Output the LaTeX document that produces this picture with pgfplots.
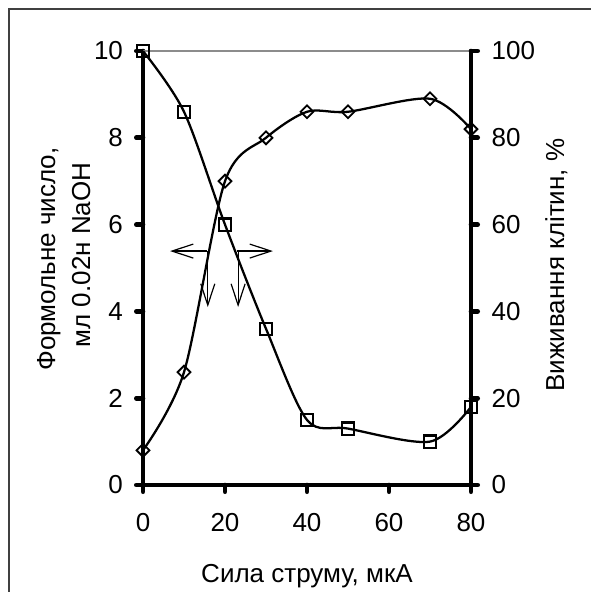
\documentclass[border=0pt]{standalone}
\usepackage{fontspec}
\setmainfont{Liberation Sans}
\usepackage{pgfplots}
\pgfplotsset{compat=1.18}
\usetikzlibrary{arrows.meta}

\newcommand{\lab}{\fontsize{19.5}{23}\selectfont}

% formol number (left axis), diamonds
\pgfplotstableread{
x   y
0   0.8
10  2.6
20  7.0
30  8.0
40  8.6
50  8.6
70  8.9
80  8.2
}\formol
% cell survival, % (right axis), squares
\pgfplotstableread{
x   y
0   100
10  86
20  60
30  36
40  15
50  13
70  10
80  18
}\surv

\pgfplotsset{
  common/.style={
    at={(107.25pt,-363.75pt)}, anchor=south west,
    scale only axis, width=246pt, height=325.5pt,
    xmin=0, xmax=80, clip=false,
    axis line style={line width=3.5pt, line cap=round, -},
    tick align=outside, major tick length=5pt,
    major tick style={line width=3.5pt, line cap=round, black},
    tick label style={font=\lab},
    /pgf/number format/assume math mode=true,
  },
}

\begin{document}
\begin{tikzpicture}
\useasboundingbox (0,0) rectangle (442.5pt,-444pt);
\begin{scope}[x=0.75pt,y=-0.75pt]
  \draw[line width=1pt, black!75] (9,600) -- (9,9) -- (600,9);
  \node[font=\lab, anchor=base] at (307,582) {Сила струму, мкА};
  \node[font=\lab, rotate=90, anchor=base] at (55,259) {Формольне число,};
  \node[font=\lab, rotate=90, anchor=base] at (90,255) {мл 0.02н NaOH};
  \node[font=\lab, rotate=90, anchor=base] at (564,265) {Виживання клітин, \%};
\end{scope}

\begin{axis}[common,
  ymin=0, ymax=10,
  axis x line*=bottom, axis y line*=left,
  xtick={0,20,...,80}, ytick={0,2,...,10},
  yticklabel style={xshift=-6.5pt},
  xticklabel style={yshift=-13pt},
]
\draw[black!45, line width=1.6pt] (axis cs:0,10) -- (axis cs:80,10);
\addplot[black, line width=1.7pt, smooth, mark=square, mark size=3.4pt,
  mark options={rotate=45, fill=white, line width=1.4pt}]
  table[x=x, y=y] {\formol};
% arrows showing which curve belongs to which axis
\draw[line width=0.9pt, -{Straight Barb[length=16pt,width=10.5pt]}]
  (axis cs:15.6,5.39) -- (axis cs:6.6,5.39);
\draw[line width=0.9pt, -{Straight Barb[length=16pt,width=10.5pt]}]
  (axis cs:15.8,5.39) -- (axis cs:15.8,4.1);
\draw[line width=0.9pt, -{Straight Barb[length=16pt,width=10.5pt]}]
  (axis cs:22.9,5.39) -- (axis cs:31.7,5.39);
\draw[line width=0.9pt, -{Straight Barb[length=16pt,width=10.5pt]}]
  (axis cs:23.2,5.39) -- (axis cs:23.2,4.1);
\end{axis}

\begin{axis}[common,
  ymin=0, ymax=100,
  axis x line=none, axis y line*=right,
  ytick={0,20,...,100},
  yticklabel style={xshift=7pt},
]
\addplot[black, line width=1.7pt, smooth, mark=square, mark size=4.6pt,
  mark options={fill=white, line width=1.6pt}]
  table[x=x, y=y] {\surv};
\end{axis}
\end{tikzpicture}
\end{document}
